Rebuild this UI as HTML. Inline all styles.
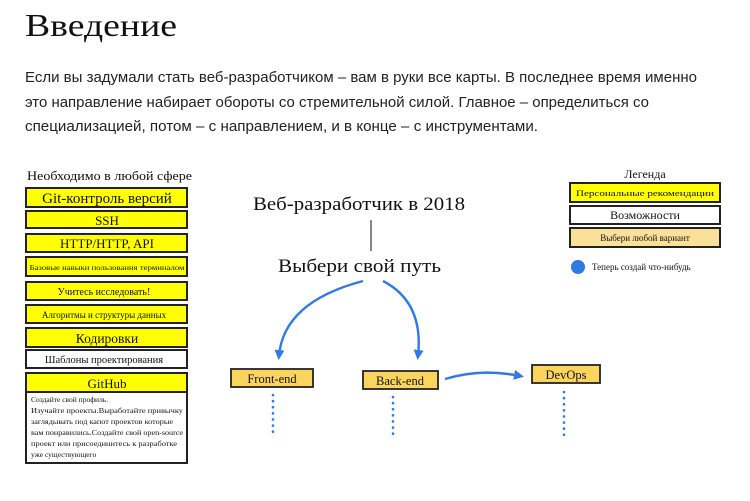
<!DOCTYPE html>
<html><head><meta charset="utf-8"><style>
html,body{margin:0;padding:0;background:#fff;width:750px;height:501px;overflow:hidden}
svg{display:block}
.s{font-family:"Liberation Serif","Noto Serif CJK SC",serif;fill:#111}
.p{font-family:"Liberation Sans","Noto Sans CJK SC",sans-serif;fill:#222;font-size:14.5px}
</style></head><body>
<svg width="750" height="501" viewBox="0 0 750 501" xmlns="http://www.w3.org/2000/svg">
<text x="25" y="36" class="s" font-size="32" textLength="152" lengthAdjust="spacingAndGlyphs">Введение</text>
<text x="25" y="82" class="p" textLength="672" lengthAdjust="spacingAndGlyphs">Если вы задумали стать веб-разработчиком – вам в руки все карты. В последнее время именно</text>
<text x="25" y="107" class="p" textLength="624" lengthAdjust="spacingAndGlyphs">это направление набирает обороты со стремительной силой. Главное – определиться со</text>
<text x="25" y="131" class="p" textLength="513" lengthAdjust="spacingAndGlyphs">специализацией, потом – с направлением, и в конце – с инструментами.</text>

<text x="27" y="180" class="s" font-size="13" textLength="165" lengthAdjust="spacingAndGlyphs">Необходимо в любой сфере</text>
<g stroke="#222" stroke-width="2">
<rect x="26" y="188" width="161" height="19" fill="#ffff00"/>
<rect x="26" y="211" width="161" height="17" fill="#ffff00"/>
<rect x="26" y="234" width="161" height="18" fill="#ffff00"/>
<rect x="26" y="257" width="161" height="19" fill="#ffff00"/>
<rect x="26" y="282" width="161" height="18" fill="#ffff00"/>
<rect x="26" y="305" width="161" height="18" fill="#ffff00"/>
<rect x="26" y="328" width="161" height="19" fill="#ffff00"/>
<rect x="26" y="350" width="161" height="18" fill="#fff"/>
<rect x="26" y="373" width="161" height="19" fill="#ffff00"/>
<rect x="26" y="392" width="161" height="71" fill="#fff"/>
</g>
<g class="s" text-anchor="middle">
<text x="107" y="203" font-size="15">Git-контроль версий</text>
<text x="107" y="225" font-size="13">SSH</text>
<text x="107" y="248" font-size="13">HTTP/HTTP, API</text>
<text x="107" y="270" font-size="7.5" textLength="155" lengthAdjust="spacingAndGlyphs">Базовые навыки пользования терминалом</text>
<text x="104" y="295" font-size="10">Учитесь исследовать!</text>
<text x="104" y="318" font-size="9">Алгоритмы и структуры данных</text>
<text x="107" y="343" font-size="13.5">Кодировки</text>
<text x="104" y="363" font-size="10.5">Шаблоны проектирования</text>
<text x="107" y="388" font-size="13">GitHub</text>
</g>
<g class="s" font-size="7.5">
<text x="31" y="402">Создайте свой профиль.</text>
<text x="31" y="413" textLength="152" lengthAdjust="spacingAndGlyphs">Изучайте проекты.Выработайте привычку</text>
<text x="31" y="424" textLength="142" lengthAdjust="spacingAndGlyphs">заглядывать под капот проектов которые</text>
<text x="31" y="435" textLength="152" lengthAdjust="spacingAndGlyphs">вам понравились.Создайте свой open-source</text>
<text x="31" y="446" textLength="146" lengthAdjust="spacingAndGlyphs">проект или присоединитесь к разработке</text>
<text x="31" y="457">уже существующего</text>
</g>

<text x="253" y="210" class="s" font-size="19" textLength="212" lengthAdjust="spacingAndGlyphs">Веб-разработчик в 2018</text>
<line x1="371" y1="220" x2="371" y2="251" stroke="#444" stroke-width="1.3"/>
<text x="278" y="272" class="s" font-size="19" textLength="163" lengthAdjust="spacingAndGlyphs">Выбери свой путь</text>

<defs><marker id="a" markerWidth="11" markerHeight="11" refX="6" refY="5" orient="auto" markerUnits="userSpaceOnUse"><path d="M0,0 L10,5 L0,10 Z" fill="#2f7ae5"/></marker></defs>
<g fill="none" stroke="#2f7ae5" stroke-width="2.4">
<path d="M363,281 C310,295 282,320 279,356" marker-end="url(#a)"/>
<path d="M383,281 C410,295 422,320 418,356" marker-end="url(#a)"/>
<path d="M445,379 C475,370 500,372 520,376" marker-end="url(#a)"/>
</g>
<g stroke="#222" stroke-width="1.8" fill="#fbd45e">
<rect x="231" y="369" width="82" height="18"/>
<rect x="363" y="371" width="75" height="18"/>
<rect x="532" y="365" width="68" height="18"/>
</g>
<g class="s" font-size="12.5" text-anchor="middle">
<text x="272" y="383">Front-end</text>
<text x="400" y="385">Back-end</text>
<text x="566" y="379">DevOps</text>
</g>
<g stroke="#2f7ae5" stroke-width="2.6" stroke-dasharray="0.1,6" stroke-linecap="round">
<line x1="273" y1="395" x2="273" y2="433"/>
<line x1="393" y1="397" x2="393" y2="435"/>
<line x1="564" y1="392" x2="564" y2="438"/>
</g>

<text x="645" y="178" class="s" font-size="12" text-anchor="middle">Легенда</text>
<g stroke="#222" stroke-width="2">
<rect x="570" y="183" width="150" height="19" fill="#ffff00"/>
<rect x="570" y="206" width="150" height="18" fill="#fff"/>
<rect x="570" y="228" width="150" height="19" fill="#fbe09a"/>
</g>
<g class="s" text-anchor="middle">
<text x="645" y="196" font-size="8.5" textLength="138" lengthAdjust="spacingAndGlyphs">Персональные рекомендации</text>
<text x="645" y="219" font-size="12">Возможности</text>
<text x="645" y="241" font-size="9">Выбери любой вариант</text>
</g>
<circle cx="578" cy="267" r="7" fill="#2f7ae5"/>
<text x="592" y="270" class="s" font-size="9">Теперь создай что-нибудь</text>
</svg>
</body></html>
